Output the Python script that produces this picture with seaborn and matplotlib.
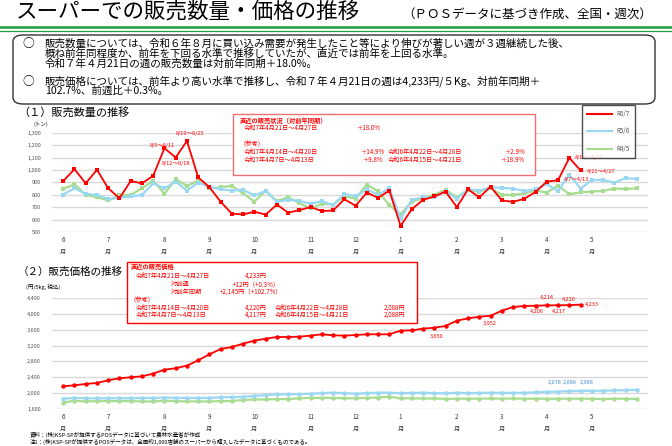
import numpy as np
import pandas as pd
import matplotlib.pyplot as plt
import seaborn as sns
from matplotlib.lines import Line2D
from matplotlib.patches import FancyBboxPatch, Rectangle

plt.rcParams["font.family"] = "Noto Sans CJK JP"

# ── data ─────────────────────────────────────────────────────────────────────
qty_r67 = [912, 1008, 893, 1003, 853, 773, 912, 893, 955, 1177, 1102, 1236, 942, 862,
           744, 648, 642, 664, 640, 722, 656, 677, 701, 669, 674, 765, 712, 819, 776,
           835, 549, 685, 760, 787, 827, 701, 845, 779, 867, 755, 744, 768, 824, 907,
           918, 1099, 998]
qty_r56 = [803, 853, 808, 800, 765, 779, 787, 800, 893, 853, 907, 835, 899, 867, 845,
           835, 840, 795, 832, 746, 760, 752, 728, 749, 717, 808, 787, 845, 800, 853,
           607, 760, 779, 779, 832, 768, 845, 835, 862, 856, 851, 832, 845, 885, 832,
           963, 851, 920, 920, 899, 936, 928]
qty_r45 = [848, 886, 800, 781, 755, 795, 800, 853, 915, 808, 928, 872, 915, 853, 862,
           872, 813, 746, 832, 749, 781, 733, 690, 728, 722, 787, 770, 883, 829, 717,
           642, 746, 773, 800, 840, 781, 840, 827, 853, 800, 800, 813, 835, 819, 875,
           805, 821, 827, 832, 851, 848, 853]

price_r67 = [2173, 2198, 2232, 2257, 2324, 2375, 2400, 2425, 2492, 2593, 2627, 2694,
             2828, 2979, 3114, 3164, 3248, 3324, 3374, 3416, 3416, 3425, 3450, 3484,
             3459, 3450, 3467, 3484, 3484, 3484, 3576, 3584, 3626, 3650, 3694, 3828,
             3887, 3929, 3952, 4080, 4172, 4198, 4206, 4214, 4217, 4220, 4233]
price_r56 = [1860, 1880, 1870, 1870, 1870, 1875, 1870, 1880, 1875, 1890, 1880, 1880,
             1880, 1880, 1895, 1900, 1910, 1930, 1950, 1970, 1970, 1975, 1985, 2000,
             2010, 2000, 1985, 2000, 2010, 2010, 2000, 2005, 2010, 2000, 1995, 2010,
             2000, 2005, 2010, 2010, 2005, 2010, 2020, 2035, 2040, 2050, 2055, 2060,
             2060, 2070, 2075, 2085]
price_r45 = [1760, 1810, 1790, 1800, 1800, 1800, 1800, 1790, 1790, 1810, 1800, 1790,
             1790, 1790, 1800, 1800, 1830, 1840, 1840, 1850, 1850, 1870, 1880, 1880,
             1880, 1870, 1870, 1880, 1890, 1910, 1870, 1870, 1865, 1865, 1855, 1860,
             1860, 1860, 1865, 1860, 1865, 1860, 1860, 1860, 1860, 1860, 1860, 1860,
             1850, 1860, 1860, 1855]

series_names = ["R6/7", "R5/6", "R4/5"]
month_ticks = [0, 4, 9, 13, 17, 22, 26, 30, 35, 39, 43, 47]
month_labels = ["6", "7", "8", "9", "10", "11", "12", "1", "2", "3", "4", "5"]
qty_yticks = list(range(500, 1301, 100))
price_yticks = list(range(1600, 4401, 400))

RED, BLUE, GREEN = "#FF0000", "#9AD8F2", "#A8DC8E"
palette = {"R6/7": RED, "R5/6": BLUE, "R4/5": GREEN}


def long_df(series):
    rows = []
    for name, vals in zip(series_names, series):
        for i, v in enumerate(vals):
            rows.append({"week": i, "value": v, "year": name})
    return pd.DataFrame(rows)


qty_df = long_df([qty_r67, qty_r56, qty_r45])
price_df = long_df([price_r67, price_r56, price_r45])

W, H = 672, 446
fig = plt.figure(figsize=(W / 100, H / 100), dpi=100)


def fx(px):
    return px / W


def fy(py):
    return 1 - py / H


def ftext(x, y, s, size=5, color="black", **kw):
    fig.text(fx(x), fy(y), s, fontsize=size, color=color, va="center", **kw)


# ── header ───────────────────────────────────────────────────────────────────
ftext(16, 12, "スーパーでの販売数量・価格の推移", size=15.5)
ftext(402, 14, "（ＰＯＳデータに基づき作成、全国・週次）", size=9)
for yy, lw in [(27, 1.8), (31, 0.9)]:
    fig.add_artist(Line2D([0, 1], [fy(yy), fy(yy)], color="#1E9E3C", lw=lw))
fig.add_artist(FancyBboxPatch((fx(13), fy(104)), fx(642), fy(35) - fy(104),
                              boxstyle="round,pad=0,rounding_size=0.015",
                              fill=False, ec="#333333", lw=1.0))
body = 7.6
ftext(22, 44, "○", size=8.5)
ftext(45, 44, "販売数量については、令和６年８月に買い込み需要が発生したこと等により伸びが著しい週が３週継続した後、", size=body)
ftext(45, 54, "概ね前年同程度か、前年を下回る水準で推移していたが、直近では前年を上回る水準。", size=body)
ftext(45, 64, "令和７年４月21日の週の販売数量は対前年同期＋18.0%。", size=body)
ftext(22, 81, "○", size=8.5)
ftext(45, 81, "販売価格については、前年より高い水準で推移し、令和７年４月21日の週は4,233円/５Kg、対前年同期＋", size=body)
ftext(45, 91, "102.7%、前週比＋0.3%。", size=body)


# ── axes ─────────────────────────────────────────────────────────────────────
def style_axes(ax, yticks):
    ax.set_xlim(-1, 52)
    ax.set_ylim(yticks[0], yticks[-1])
    ax.set_yticks(yticks)
    ax.set_yticklabels([f"{v:,}" for v in yticks], fontsize=4, color="#555555")
    ax.set_xticks(month_ticks)
    ax.set_xticklabels([f"{m}\n月" for m in month_labels], fontsize=4.5,
                       color="#333333", linespacing=1.6)
    ax.grid(axis="y", color="#D9D9D9", lw=1.0)
    ax.set_axisbelow(True)
    ax.tick_params(axis="y", length=0, pad=8)
    ax.tick_params(axis="x", length=0, pad=3)
    for s in ax.spines.values():
        s.set_visible(False)
    ax.set_xlabel("")
    ax.set_ylabel("")


ax1 = fig.add_axes([fx(52), fy(232), fx(596), fy(133) - fy(232)])
sns.lineplot(data=qty_df, x="week", y="value", hue="year", hue_order=series_names[::-1],
             palette=palette, marker="s", markersize=3.2, markeredgewidth=0,
             ax=ax1, legend=False)
for ln in ax1.lines:
    ln.set_linewidth(1.3 if ln.get_color() == RED else 1.6)
style_axes(ax1, qty_yticks)

ax2 = fig.add_axes([fx(52), fy(409), fx(596), fy(298) - fy(409)])
sns.lineplot(data=price_df, x="week", y="value", hue="year", hue_order=series_names[::-1],
             palette=palette, marker="o", markersize=3.2, markeredgewidth=0,
             ax=ax2, legend=False)
for ln in ax2.lines:
    ln.set_linewidth(1.3 if ln.get_color() == RED else 1.6)
style_axes(ax2, price_yticks)

# section titles and units
ftext(18, 112, "（１）販売数量の推移", size=8)
ftext(34, 124, "(トン)", size=4)
ftext(18, 272, "（２）販売価格の推移", size=7.6)
ftext(26, 287, "(円/5kg, 税込)", size=4)

# legend
handles = [Line2D([], [], color=palette[n], lw=1.5) for n in series_names]
leg = fig.legend(handles, series_names, loc="upper right",
                 bbox_to_anchor=(fx(638), fy(102)), fontsize=4.5, frameon=True,
                 fancybox=False, edgecolor="#222222", handlelength=4,
                 labelspacing=1.5, borderpad=0.8)
leg.get_frame().set_linewidth(1.0)
for t in leg.get_texts():
    t.set_color("#555555")

# point annotations, quantity
for x, y, s in [(150, 146, "8/5～8/11"), (176, 134, "8/19～8/25"), (162, 163, "8/12～8/18"),
                (575, 158, "4/14～4/20"), (587, 171, "4/21～4/27"), (564, 180, "4/7～4/13")]:
    ftext(x, y, s, size=4, color=RED)

# point annotations, price
for x, y, s in [(430, 336, "3,650"), (483, 323, "3,952"), (530, 311, "4,206"), (552, 311, "4,217"),
                (540, 297, "4,214"), (562, 299, "4,220"), (585, 304, "4,233")]:
    ftext(x, y, s, size=4, color=RED)
for x, y, s in [(548, 382, "2,078"), (563, 382, "2,088"), (580, 382, "2,088")]:
    ftext(x, y, s, size=4, color="#4A90D9")

# top info box
fig.add_artist(Rectangle((fx(233), fy(175)), fx(302), fy(114) - fy(175),
                         fc="white", ec="#F07070", lw=1.0))
ftext(240, 120, "直近の販売状況（対前年同期）", size=4.5, color=RED, weight="bold")
ftext(244, 128, "令和7年4月21日～4月27日", size=4.5, color=RED)
ftext(356, 128, "＋18.0%", size=4.5, color=RED)
ftext(240, 144, "（参考）", size=4.5, color=RED)
ftext(244, 152, "令和7年4月14日～4月20日", size=4.5, color=RED)
ftext(244, 160, "令和7年4月7日～4月13日", size=4.5, color=RED)
ftext(360, 152, "＋14.9%", size=4.5, color=RED)
ftext(362, 160, "＋9.8%", size=4.5, color=RED)
ftext(388, 152, "令和6年4月22日～4月28日", size=4.5, color=RED)
ftext(388, 160, "令和6年4月15日～4月21日", size=4.5, color=RED)
ftext(504, 152, "＋2.9%", size=4.5, color=RED)
ftext(500, 160, "＋18.9%", size=4.5, color=RED)

# bottom info box
fig.add_artist(Rectangle((fx(127), fy(323)), fx(290), fy(262) - fy(323),
                         fc="white", ec=RED, lw=1.0))
ftext(131, 267, "直近の販売価格", size=4.5, color=RED, weight="bold")
ftext(136, 276, "令和7年4月21日～4月27日", size=4.5, color=RED)
ftext(245, 276, "4,233円", size=4.5, color=RED)
ftext(171, 284, "対前週", size=4.5, color=RED)
ftext(233, 284, "+12円（+0.3%）", size=4.5, color=RED)
ftext(171, 292, "対前年同期", size=4.5, color=RED)
ftext(220, 292, "+2,145円（+102.7%）", size=4.5, color=RED)
ftext(130, 300, "（参考）", size=4.5, color=RED)
ftext(136, 308, "令和7年4月14日～4月20日", size=4.5, color=RED)
ftext(136, 315, "令和7年4月7日～4月13日", size=4.5, color=RED)
ftext(245, 308, "4,220円", size=4.5, color=RED)
ftext(245, 315, "4,217円", size=4.5, color=RED)
ftext(275, 308, "令和6年4月22日～4月28日", size=4.5, color=RED)
ftext(275, 315, "令和6年4月15日～4月21日", size=4.5, color=RED)
ftext(384, 308, "2,088円", size=4.5, color=RED)
ftext(384, 315, "2,088円", size=4.5, color=RED)

# notes
ftext(30, 435, "資料：(株)KSP-SPが提供するPOSデータに基づいて農林水産省が作成", size=4)
ftext(30, 442, "注1：(株)KSP-SPが提供するPOSデータは、全国約1,000店舗のスーパーから購入したデータに基づくものである。", size=4)

fig.savefig("out.png", dpi=100)
